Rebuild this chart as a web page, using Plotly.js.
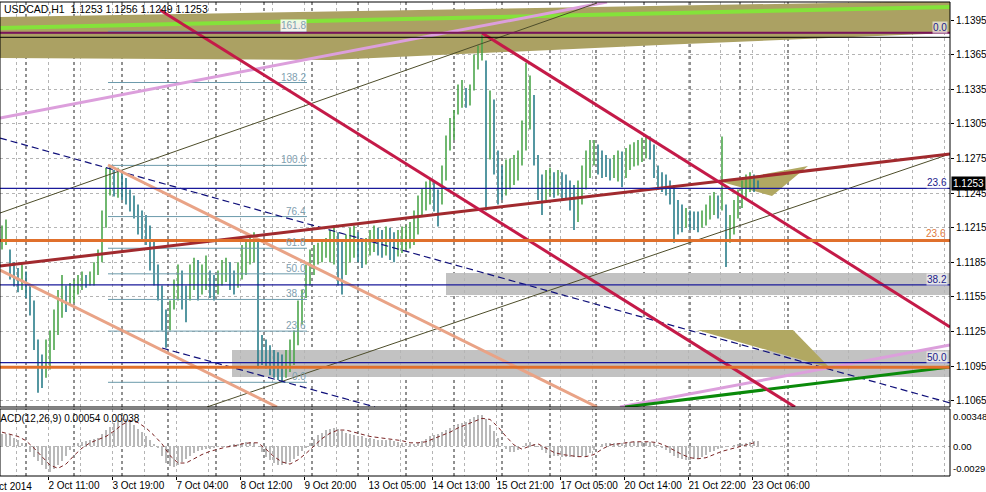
<!DOCTYPE html>
<html><head><meta charset="utf-8">
<script src="https://cdn.plot.ly/plotly-3.0.1.min.js"></script>
<style>html,body{margin:0;padding:0;background:#fff;} #chart{width:986px;height:492px;}</style>
</head><body><div id="chart"></div>
<script>
// ---------- price bars (one sample per 2 hourly bars) ----------
const barHigh = [
1.1217,1.1222,1.1196,1.1185,1.1180,1.1183,1.1177,1.1165,1.1152,1.1118,
1.1105,1.1118,1.1126,1.1144,1.1161,1.1174,1.1165,1.1167,1.1170,1.1174,
1.1177,1.1174,1.1177,1.1185,1.1196,1.1230,1.1267,1.1268,1.1265,1.1267,
1.1263,1.1258,1.1248,1.1243,1.1235,1.1230,1.1226,1.1217,1.1204,1.1183,
1.1165,1.1144,1.1152,1.1170,1.1183,1.1178,1.1165,1.1183,1.1189,1.1187,
1.1183,1.1191,1.1178,1.1174,1.1178,1.1187,1.1189,1.1185,1.1178,1.1185,
1.1200,1.1204,1.1209,1.1211,1.1204,1.1122,1.1118,1.1113,1.1109,1.1107,
1.1105,1.1109,1.1118,1.1126,1.1152,1.1161,1.1183,1.1196,1.1200,1.1202,
1.1204,1.1206,1.1213,1.1217,1.1211,1.1204,1.1209,1.1215,1.1217,1.1211,
1.1204,1.1206,1.1213,1.1217,1.1215,1.1213,1.1216,1.1215,1.1211,1.1213,
1.1216,1.1217,1.1220,1.1230,1.1243,1.1249,1.1255,1.1258,1.1256,1.1248,
1.1269,1.1295,1.1310,1.1317,1.1339,1.1343,1.1336,1.1339,1.1365,1.1373,
1.1382,1.1360,1.1334,1.1326,1.1282,1.1269,1.1274,1.1275,1.1278,1.1282,
1.1308,1.1358,1.1347,1.1330,1.1278,1.1261,1.1265,1.1267,1.1263,1.1265,
1.1263,1.1261,1.1256,1.1252,1.1256,1.1269,1.1282,1.1291,1.1291,1.1287,
1.1282,1.1278,1.1275,1.1278,1.1282,1.1281,1.1284,1.1287,1.1289,1.1291,
1.1293,1.1294,1.1294,1.1287,1.1269,1.1263,1.1261,1.1256,1.1252,1.1239,
1.1235,1.1232,1.1230,1.1229,1.1229,1.1230,1.1235,1.1243,1.1246,1.1243,
1.1294,1.1235,1.1226,1.1239,1.1248,1.1256,1.1261,1.1263,1.1261,1.1256];
const barLow = [
1.1196,1.1200,1.1170,1.1164,1.1159,1.1161,1.1154,1.1139,1.1109,1.1072,
1.1076,1.1085,1.1092,1.1109,1.1122,1.1137,1.1142,1.1148,1.1150,1.1157,
1.1161,1.1163,1.1165,1.1165,1.1174,1.1185,1.1215,1.1243,1.1242,1.1241,
1.1239,1.1235,1.1229,1.1223,1.1209,1.1204,1.1200,1.1178,1.1165,1.1152,
1.1126,1.1111,1.1126,1.1144,1.1152,1.1144,1.1133,1.1152,1.1161,1.1152,
1.1157,1.1161,1.1154,1.1152,1.1157,1.1165,1.1168,1.1161,1.1157,1.1163,
1.1170,1.1174,1.1183,1.1185,1.1093,1.1096,1.1093,1.1087,1.1085,1.1083,
1.1081,1.1085,1.1090,1.1096,1.1113,1.1131,1.1154,1.1165,1.1174,1.1183,
1.1185,1.1189,1.1185,1.1183,1.1165,1.1157,1.1174,1.1185,1.1189,1.1185,
1.1180,1.1183,1.1191,1.1194,1.1191,1.1189,1.1191,1.1187,1.1185,1.1190,
1.1193,1.1196,1.1197,1.1200,1.1209,1.1226,1.1230,1.1235,1.1229,1.1216,
1.1235,1.1256,1.1282,1.1291,1.1313,1.1319,1.1319,1.1321,1.1334,1.1352,
1.1360,1.1230,1.1274,1.1261,1.1235,1.1239,1.1243,1.1248,1.1252,1.1256,
1.1269,1.1282,1.1300,1.1269,1.1239,1.1226,1.1239,1.1243,1.1241,1.1243,
1.1239,1.1239,1.1230,1.1213,1.1220,1.1235,1.1248,1.1258,1.1269,1.1261,
1.1258,1.1259,1.1256,1.1258,1.1255,1.1250,1.1258,1.1265,1.1268,1.1269,
1.1272,1.1275,1.1274,1.1258,1.1248,1.1246,1.1243,1.1235,1.1202,1.1209,
1.1211,1.1215,1.1213,1.1213,1.1211,1.1215,1.1217,1.1222,1.1226,1.1223,
1.1230,1.1181,1.1202,1.1209,1.1223,1.1232,1.1241,1.1246,1.1246,1.1249];
// ---------- MACD ----------
const macdMain = [
.0011,.0011,.0010,.0008,.0006,.0003,-.0001,-.0006,-.0010,-.0014,
-.0018,-.0022,-.0024,-.0022,-.0018,-.0014,-.0009,-.0004,.0001,.0003,
.0004,.0005,.0006,.0007,.0008,.0011,.0015,.0018,.0022,.0024,
.0026,.0025,.0023,.0020,.0016,.0013,.0009,.0006,.0002,-.0002,
-.0009,-.0016,-.0019,-.0020,-.0018,-.0015,-.0012,-.0009,-.0007,-.0005,
-.0004,-.0003,-.0003,-.0002,-.0001,-.0001,.0000,.0001,.0002,.0002,
.0003,.0004,.0004,.0003,.0000,-.0006,-.0010,-.0013,-.0016,-.0018,
-.0018,-.0017,-.0015,-.0012,-.0009,-.0005,-.0002,.0003,.0007,.0010,
.0012,.0015,.0016,.0017,.0016,.0014,.0012,.0011,.0010,.0009,
.0009,.0008,.0008,.0007,.0006,.0006,.0006,.0006,.0005,.0004,
.0003,.0002,.0002,.0002,.0003,.0005,.0007,.0009,.0010,.0011,
.0013,.0015,.0017,.0019,.0021,.0022,.0023,.0025,.0027,.0029,
.0029,.0025,.0020,.0014,.0008,.0002,-.0003,-.0006,-.0006,-.0004,
.0000,.0003,.0004,.0002,-.0001,-.0004,-.0007,-.0008,-.0009,-.0009,
-.0010,-.0010,-.0010,-.0010,-.0010,-.0009,-.0009,-.0007,-.0004,.0000,
.0002,.0003,.0003,.0003,.0003,.0003,.0004,.0004,.0004,.0004,
.0004,.0004,.0004,.0003,.0001,-.0002,-.0004,-.0007,-.0009,-.0011,
-.0012,-.0013,-.0013,-.0012,-.0011,-.0010,-.0008,-.0006,-.0005,-.0003,
-.0002,-.0001,.0000,.0001,.0002,.0002,.0003,.0004,.0005,.0005];
// signal line, one sample per 4 hourly bars
const macdSignal = [
.0013,.0011,.0009,.0005,-.0002,-.0010,-.0018,-.0021,-.0017,-.0009,
-.0002,.0003,.0006,.0009,.0014,.0020,.0024,.0022,.0017,.0010,
.0002,-.0009,-.0016,-.0016,-.0012,-.0008,-.0005,-.0003,-.0001,.0000,
.0002,.0003,.0003,-.0003,-.0010,-.0015,-.0017,-.0013,-.0007,.0000,
.0007,.0012,.0015,.0015,.0013,.0011,.0009,.0008,.0007,.0006,
.0005,.0003,.0003,.0004,.0007,.0010,.0013,.0017,.0020,.0023,
.0026,.0025,.0018,.0009,.0001,-.0003,.0000,.0002,-.0002,-.0006,
-.0008,-.0009,-.0010,-.0010,-.0008,-.0003,.0001,.0002,.0003,.0004,
.0004,.0004,.0003,.0000,-.0004,-.0008,-.0011,-.0012,-.0011,-.0008,
-.0005,-.0003,-.0001,.0001,.0003];

// ---------- axes ----------
const tickBars = [24,56,88,120,152,184,216,248,280,312,344,376];
const tickLabels = ["2 Oct 11:00","3 Oct 19:00","7 Oct 04:00","8 Oct 12:00","9 Oct 20:00","13 Oct 05:00",
  "14 Oct 13:00","15 Oct 21:00","17 Oct 05:00","20 Oct 14:00","21 Oct 22:00","23 Oct 06:00"];
const firstLabel = "1 Oct 2014";
const daySeparators = [13,37,61,84,108,132,156,179,203,227,251,275,298,322,345,370,394];
const priceTicks = [1.1065,1.1095,1.1125,1.1155,1.1185,1.1215,1.1245,1.1275,1.1305,1.1335,1.1365,1.1395];
const lastPrice = 1.1253;
const titleText = "USDCAD,H1  1.1253 1.1256 1.1249 1.1253";
const macdText = "MACD(12,26,9) 0.00054 0.00038";
const macdLabels = ["0.00348","0.00","-0.0029"];
const macdMax = 0.00348, macdMin = -0.00282;

// ---------- drawn objects (time in hourly bars, price) ----------
const fibLeftLevels = [0,23.6,38.2,50.0,61.8,76.4,100.0,138.2,161.8];
const fibLeftLow = 1.1081, fibLeftHigh = 1.1269, fibLeftStart = 54, fibLeftEnd = 153.5;
const fibRightLevels = [0.0,23.6,38.2,50.0];
const fibRightTop = 1.1384, fibRightBottom = 1.0812;
const orangeLevels = [1.1204, 1.1094];
const purpleLevel = 1.1384, blackLevel = 1.1380;
const grayZoneA_t = [223,475], grayZoneA_p = [1.11567,1.11757];
const grayZoneB_t = [116,475], grayZoneB_p = [1.10856,1.11090];
const khakiBand_t = [0,475,475,330,165,0], khakiBand_p = [1.13976,1.14115,1.13837,1.13733,1.13603,1.13621];
const khakiTriA_t = [361,404,386], khakiTriA_p = [1.12546,1.12685,1.12425];
const khakiTriB_t = [348.5,396.5,415], khakiTriB_p = [1.11263,1.11263,1.10934];
const crimsonA_t=[80,397.5], crimsonA_p=[1.14037,1.10596];
const crimsonB_t=[241,475], crimsonB_p=[1.13837,1.11289];
const brown_t=[0,475], brown_p=[1.11818,1.12789];
const thinA_t=[0,298.5], thinA_p=[1.12277,1.14097];
const thinB_t=[103.5,475], thinB_p=[1.10596,1.12789];
const navyDashA_t=[0,475], navyDashA_p=[1.12927,1.10631];
const navyDashB_t=[81,187.5], navyDashB_p=[1.11107,1.10596];
const salmonA_t=[54,298.5], salmonA_p=[1.12693,1.10596];
const salmonB_t=[0,138.5], salmonB_p=[1.11783,1.10596];
const plumA_t=[0,303.5], plumA_p=[1.13101,1.14106];
const plumB_t=[310,475], plumB_p=[1.10596,1.11133];
const green_t=[312.5,475], green_p=[1.10596,1.10943];
const lime_t=[0,475], lime_p=[1.13881,1.14063];

const FONT = "Liberation Sans, Arial, sans-serif";
const traces = [];
function poly(t, p, fill, opacity) {
  traces.push({x:t, y:p, xaxis:'x', yaxis:'y', mode:'lines', fill:'toself', fillcolor:fill,
    line:{width:0, color:fill}, opacity:opacity||1, hoverinfo:'skip'});
}
function seg(t, p, color, width, dash) {
  traces.push({x:t, y:p, xaxis:'x', yaxis:'y', mode:'lines', line:{color:color, width:width, dash:dash||'solid'}, hoverinfo:'skip'});
}
poly(khakiBand_t, khakiBand_p, '#aba163');
poly(khakiTriA_t, khakiTriA_p, '#b1a862');
poly(khakiTriB_t, khakiTriB_p, '#b1a862');

// price bars
const upX=[], upY=[], dnX=[], dnY=[];
barHigh.forEach((h,i)=>{
  const t = 1 + 2*i;
  const mid = (h+barLow[i])/2;
  const prev = i>0 ? (barHigh[i-1]+barLow[i-1])/2 : mid;
  const X = mid>=prev ? upX : dnX, Y = mid>=prev ? upY : dnY;
  X.push(t,t,null); Y.push(barLow[i],h,null);
});
traces.push({x:upX,y:upY,xaxis:'x',yaxis:'y',mode:'lines',line:{color:'#4ca64c',width:1.6},hoverinfo:'skip'});
traces.push({x:dnX,y:dnY,xaxis:'x',yaxis:'y',mode:'lines',line:{color:'#2a7d8a',width:1.6},hoverinfo:'skip'});

// left fibonacci
fibLeftLevels.forEach(l=>{
  const p = fibLeftLow + (fibLeftHigh-fibLeftLow)*l/100;
  seg([fibLeftStart,fibLeftEnd],[p,p],'#6b9aab',1);
});
seg(lime_t, lime_p, '#84e33a', 4);
seg(plumA_t, plumA_p, '#dc9fdc', 3);
seg(plumB_t, plumB_p, '#dc9fdc', 3);
seg(thinA_t, thinA_p, '#4d4d2a', 1);
seg(thinB_t, thinB_p, '#4d4d2a', 1);
seg(navyDashA_t, navyDashA_p, '#10107a', 1.2, '7px,4px');
seg(navyDashB_t, navyDashB_p, '#10107a', 1.2, '7px,4px');
seg(salmonA_t, salmonA_p, '#e9a386', 3);
seg(salmonB_t, salmonB_p, '#e9a386', 3);
seg(green_t, green_p, '#0a8a0a', 3);
seg(brown_t, brown_p, '#a12a2e', 3);
seg(crimsonA_t, crimsonA_p, '#c41a48', 3);
seg(crimsonB_t, crimsonB_p, '#c41a48', 3);

// MACD
traces.push({type:'bar', x:macdMain.map((v,i)=>1+2*i), y:macdMain, xaxis:'x', yaxis:'y2', width:1.1,
  marker:{color:'#b9b9b9', line:{width:0}}, hoverinfo:'skip'});
traces.push({x:macdSignal.map((v,i)=>1+4*i), y:macdSignal, xaxis:'x', yaxis:'y2', mode:'lines',
  line:{color:'#7a2424', width:1, dash:'4px,3px'}, hoverinfo:'skip'});

// shapes
const shapes = [];
const MAIN_BOTTOM = 0.14557, MACD_TOP = 0.14135;
shapes.push({type:'rect', layer:'below', xref:'x', yref:'y', x0:grayZoneA_t[0], x1:grayZoneA_t[1], y0:grayZoneA_p[0], y1:grayZoneA_p[1], fillcolor:'#c2c2c2', line:{width:0}});
shapes.push({type:'rect', layer:'below', xref:'x', yref:'y', x0:grayZoneB_t[0], x1:grayZoneB_t[1], y0:grayZoneB_p[0], y1:grayZoneB_p[1], fillcolor:'#c2c2c2', line:{width:0}});
daySeparators.forEach(t=>{
  shapes.push({type:'line', layer:'below', xref:'x', yref:'y domain', x0:t, x1:t, y0:0, y1:1, line:{color:'#222', width:1, dash:'3px,3px'}});
  shapes.push({type:'line', layer:'below', xref:'x', yref:'y2 domain', x0:t, x1:t, y0:0, y1:1, line:{color:'#222', width:1, dash:'3px,3px'}});
});
fibRightLevels.forEach(l=>{
  const p = fibRightTop - (fibRightTop-fibRightBottom)*l/100;
  shapes.push({type:'line', xref:'x domain', yref:'y', x0:0, x1:1, y0:p, y1:p, line:{color:'#1a1a9a', width:1.3}});
});
orangeLevels.forEach(p=>{
  shapes.push({type:'line', xref:'x domain', yref:'y', x0:0, x1:1, y0:p, y1:p, line:{color:'#e0702c', width:3}});
});
shapes.push({type:'line', xref:'x domain', yref:'y', x0:0, x1:1, y0:purpleLevel, y1:purpleLevel, line:{color:'#7a1458', width:2}});
shapes.push({type:'line', xref:'x domain', yref:'y', x0:0, x1:1, y0:blackLevel, y1:blackLevel, line:{color:'#000', width:1}});
shapes.push({type:'rect', xref:'paper', yref:'paper', x0:0, x1:1, y0:MAIN_BOTTOM, y1:1, line:{color:'#000', width:1}});
shapes.push({type:'rect', xref:'paper', yref:'paper', x0:0, x1:1, y0:0, y1:MACD_TOP, line:{color:'#000', width:1}});

// annotations
const ann = [];
const f = (size,color)=>({family:FONT, size:size, color:color});
ann.push({text:titleText, xref:'paper', yref:'paper', x:0.002, y:0.985, xanchor:'left', yanchor:'middle', showarrow:false, font:f(10.5,'#000')});
ann.push({text:macdText, xref:'paper', yref:'paper', x:-0.011, y:0.1203, xanchor:'left', yanchor:'middle', showarrow:false, font:f(10,'#000')});
ann.push({text:macdLabels[0], xref:'paper', yref:'y2', x:1.001, y:macdMax, xanchor:'left', yanchor:'top', showarrow:false, font:f(9.5,'#000')});
ann.push({text:macdLabels[1], xref:'paper', yref:'y2', x:1.001, y:0, xanchor:'left', yanchor:'middle', showarrow:false, font:f(9.5,'#000')});
ann.push({text:macdLabels[2], xref:'paper', yref:'y2 domain', x:1.001, y:0, xanchor:'left', yanchor:'bottom', showarrow:false, font:f(9.5,'#000')});
ann.push({text:firstLabel, xref:'paper', yref:'paper', x:-0.02, y:-0.006, xanchor:'left', yanchor:'top', showarrow:false, font:f(10,'#000')});
ann.push({text:lastPrice.toFixed(4), xref:'paper', yref:'y', x:1.001, y:lastPrice, xanchor:'left', yanchor:'middle', showarrow:false, bgcolor:'#000', borderpad:1, font:f(10,'#fff')});
fibLeftLevels.forEach(l=>{
  const p = fibLeftLow + (fibLeftHigh-fibLeftLow)*l/100;
  ann.push({text:l.toFixed(1), xref:'x', yref:'y', x:fibLeftEnd, y:p, xanchor:'right', yanchor:'bottom', yshift:-1, showarrow:false,
    bgcolor: l>150 ? 'rgba(255,255,255,0.85)' : 'rgba(0,0,0,0)', borderpad:0, font:f(10,'#7fa0b0')});
});
fibRightLevels.forEach(l=>{
  const p = fibRightTop - (fibRightTop-fibRightBottom)*l/100;
  ann.push({text:l.toFixed(1), xref:'paper', yref:'y', x:0.998, y:p, xanchor:'right', yanchor:'bottom', yshift:-1, showarrow:false, bgcolor:'rgba(255,255,255,0.6)', borderpad:0, font:f(10,'#1a1a8a')});
});
ann.push({text:'23.6', xref:'paper', yref:'y', x:0.998, y:orangeLevels[0], xanchor:'right', yanchor:'bottom', yshift:-1, showarrow:false, font:f(10,'#e07a40')});

const GRID = '#b4b4b4';
const layout = {
  width:986, height:492, margin:{l:0, r:36, t:2, b:16, autoexpand:false},
  paper_bgcolor:'#fff', plot_bgcolor:'#fff', showlegend:false, hovermode:false,
  font:{family:FONT, size:10, color:'#000'},
  bargap:0,
  xaxis:{anchor:'y2', domain:[0,1], range:[0,475], tickmode:'array', tickvals:tickBars, ticktext:tickLabels,
    tickangle:0, automargin:false,
    ticklabelposition:'outside right', ticks:'outside', ticklen:3, tickcolor:'#000',
    showgrid:true, gridcolor:GRID, griddash:'3px,3px', zeroline:false, showline:false,
    tickfont:f(10,'#000'),
    minor:{tick0:8, dtick:16, showgrid:true, gridcolor:GRID, griddash:'3px,3px', ticks:''}},
  yaxis:{anchor:'x', domain:[MAIN_BOTTOM,1], range:[1.105959,1.14106], side:'right', tickmode:'array', automargin:false,
    tickvals:priceTicks, ticktext:priceTicks.map(v=>v.toFixed(4)), ticks:'outside', ticklen:3, tickcolor:'#000',
    showgrid:true, gridcolor:GRID, griddash:'3px,3px', zeroline:false, tickfont:f(10,'#000')},
  yaxis2:{anchor:'x', domain:[0,MACD_TOP], range:[macdMin,macdMax], side:'right', tickmode:'array', tickvals:[0], automargin:false,
    showticklabels:false, ticks:'', showgrid:true, gridcolor:GRID, griddash:'3px,3px', zeroline:false},
  shapes:shapes, annotations:ann
};
Plotly.newPlot('chart', traces, layout, {staticPlot:true, displayModeBar:false});
</script></body></html>
